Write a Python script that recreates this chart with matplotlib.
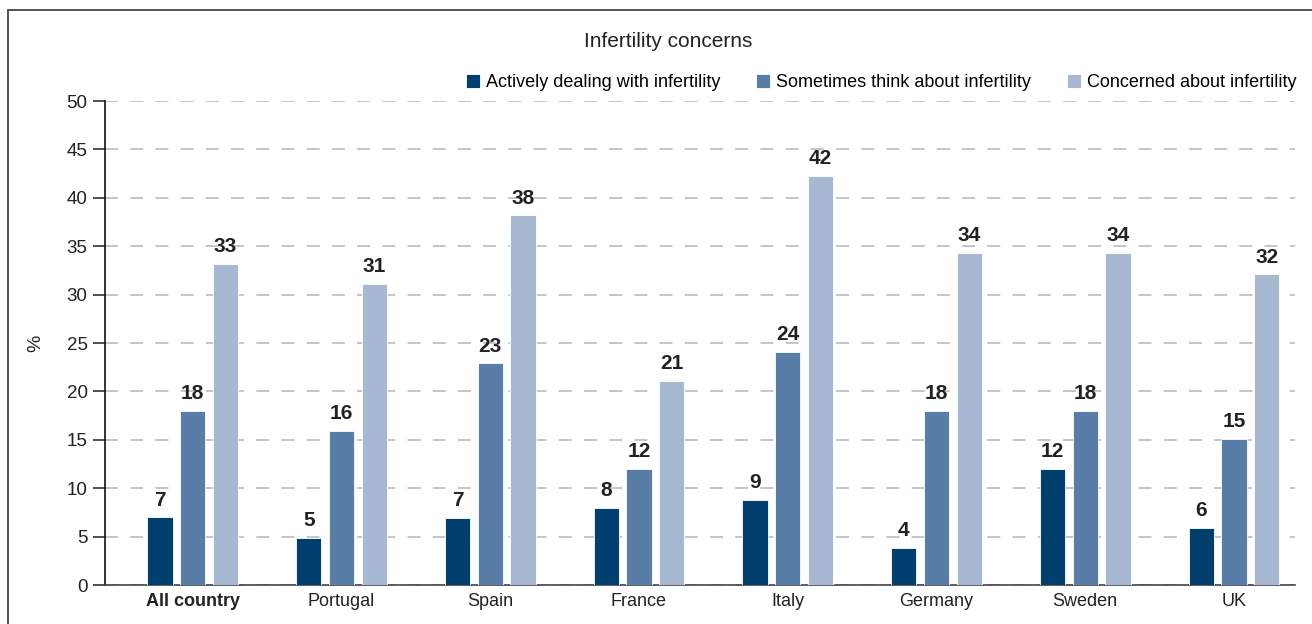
import numpy as np
import matplotlib.pyplot as plt
from matplotlib.patches import Rectangle

plt.rcParams['font.family'] = ['Liberation Sans', 'DejaVu Sans']

countries = ['All country', 'Portugal', 'Spain', 'France', 'Italy', 'Germany', 'Sweden', 'UK']
series = ['Actively dealing with infertility', 'Sometimes think about infertility',
          'Concerned about infertility']
actively = [7.0, 4.9, 6.9, 8.0, 8.8, 3.8, 12.0, 5.9]
sometimes = [18.0, 15.9, 22.9, 12.0, 24.1, 18.0, 18.0, 15.1]
concerned = [33.2, 31.1, 38.2, 21.1, 42.3, 34.3, 34.3, 32.1]
colors = ['#003f6e', '#587ea8', '#a7b8d2']

fig = plt.figure(figsize=(13.12, 6.24), dpi=100)
ax = fig.add_axes([0.080, 0.0625, 0.907, 0.7755])

# frame around the figure (cut off at right and bottom)
fig.patches.append(Rectangle((0.006, -0.1), 1.2, 1.084, transform=fig.transFigure,
                             fill=False, edgecolor='#444444', linewidth=1.3))

x = np.arange(len(countries))
width = 0.17
offsets = [-0.22, 0.0, 0.22]
for vals, off, col, name in zip([actively, sometimes, concerned], offsets, colors, series):
    bars = ax.bar(x + off, vals, width, color=col, edgecolor='white', linewidth=0.6,
                  label=name, zorder=3)
    for b, v in zip(bars, vals):
        ax.text(b.get_x() + b.get_width() / 2, v + 0.8, f'{round(v):d}',
                ha='center', va='bottom', fontsize=15, fontweight='bold', color='#222222')

ax.set_xlim(-0.59, 7.41)
ax.set_ylim(0, 50)
ax.set_yticks(range(0, 51, 5))
ax.set_xticks(x)
ax.set_xticklabels(countries, fontsize=13, color='#222222')
ax.get_xticklabels()[0].set_fontweight('bold')
ax.tick_params(axis='x', length=0, pad=6)
ax.tick_params(axis='y', labelsize=13.5, length=9, width=1.2, color='#333333', labelcolor='#222222')
ax.yaxis.grid(True, linestyle=(0, (8.5, 8)), color='#b5b5b5', linewidth=1.1, zorder=0)
ax.set_axisbelow(True)
for s in ['top', 'right']:
    ax.spines[s].set_visible(False)
ax.spines['left'].set_color('#111111')
ax.spines['bottom'].set_color('#444444')
ax.spines['left'].set_linewidth(1.2)
ax.spines['bottom'].set_linewidth(1.2)
ax.set_ylabel('%', fontsize=14, color='#222222', labelpad=16)

fig.text(0.509, 0.934, 'Infertility concerns', ha='center', va='center', fontsize=15,
         color='#222222')
ax.legend(loc='center right', bbox_to_anchor=(0.988, 0.868), bbox_transform=fig.transFigure,
          ncol=3, frameon=False, fontsize=13, handlelength=0.8, handleheight=0.8,
          handletextpad=0.3, columnspacing=2.0, borderaxespad=0, borderpad=0)

fig.savefig('out.png', dpi=100)
